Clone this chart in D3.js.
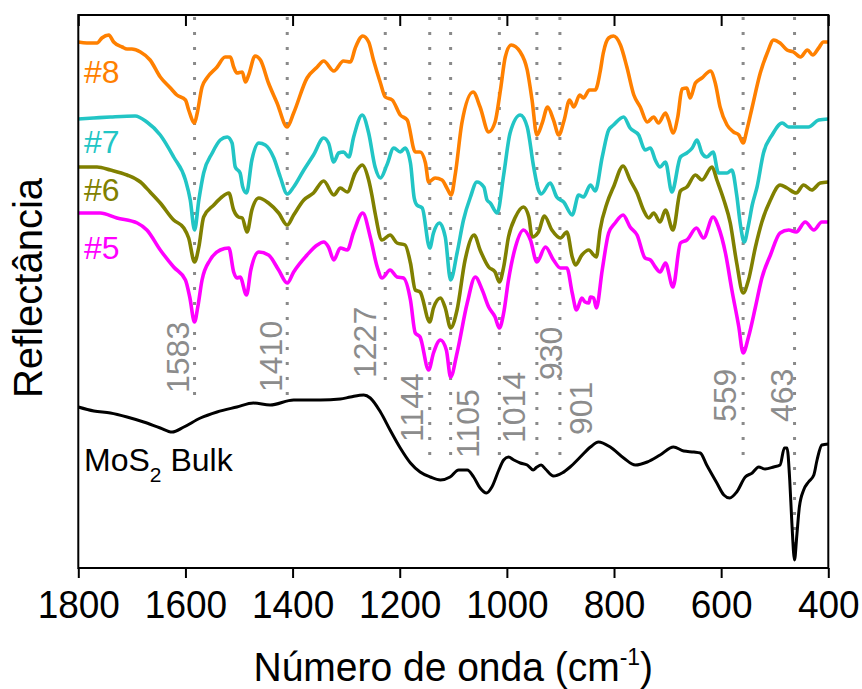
<!DOCTYPE html>
<html><head><meta charset="utf-8">
<script src="https://cdn.jsdelivr.net/npm/d3@7"></script>
<style>
body{margin:0;background:#fff}
text{font-family:"Liberation Sans", Arial, sans-serif}
</style>
</head><body>
<svg id="chart" width="862" height="689"></svg>
<script>
// ---------- data ----------
const xTicks = [1800,1600,1400,1200,1000,800,600,400];
const seriesNames = ["#8","#7","#6","#5"];
const bulkName = "MoS";
// [wavenumber (cm-1), reflectance (a.u., offset)]
const s8 = [[1800,5.26],[1784,5.25],[1765,5.25],[1756,5.30],[1743,5.33],[1734,5.26],[1718,5.21],[1709,5.19],[1700,5.19],[1684,5.16],[1666,5.08],[1647,4.91],[1628,4.80],[1616,4.73],[1600,4.68],[1594,4.58],[1583,4.45],[1578,4.55],[1569,4.81],[1560,4.90],[1541,5.01],[1526,5.11],[1516,5.11],[1510,5.01],[1504,4.95],[1494,4.96],[1488,4.86],[1482,4.93],[1470,5.12],[1460,5.08],[1445,4.85],[1429,4.65],[1410,4.41],[1398,4.55],[1373,4.90],[1354,5.01],[1342,5.07],[1323,4.97],[1305,5.07],[1292,5.06],[1283,5.20],[1269,5.32],[1258,5.26],[1249,5.08],[1236,4.85],[1227,4.71],[1214,4.68],[1199,4.53],[1186,4.48],[1171,4.16],[1162,4.16],[1152,4.05],[1146,3.86],[1134,3.90],[1121,3.88],[1112,3.80],[1104,3.73],[1096,3.95],[1084,4.45],[1063,4.76],[1050,4.61],[1034,4.36],[1022,4.46],[1012,4.78],[1003,5.11],[992,5.23],[975,5.16],[962,4.98],[953,4.68],[944,4.33],[934,4.45],[924,4.61],[913,4.48],[903,4.33],[893,4.48],[883,4.68],[875,4.61],[864,4.73],[857,4.70],[846,4.78],[835,4.78],[826,4.96],[820,5.15],[810,5.30],[801,5.32],[788,5.23],[776,5.01],[763,4.73],[751,4.61],[738,4.46],[726,4.51],[717,4.45],[704,4.55],[698,4.48],[690,4.35],[681,4.51],[673,4.79],[664,4.80],[658,4.70],[648,4.85],[636,4.90],[620,4.97],[611,4.85],[602,4.61],[589,4.43],[577,4.36],[567,4.33],[559,4.25],[552,4.38],[542,4.61],[527,4.95],[514,5.15],[502,5.28],[490,5.25],[477,5.18],[465,5.16],[452,5.11],[439,5.18],[429,5.13],[418,5.20],[409,5.26],[400,5.26]];
const s7 = [[1800,4.49],[1771,4.50],[1740,4.51],[1694,4.52],[1672,4.46],[1647,4.33],[1622,4.11],[1600,3.88],[1591,3.68],[1583,3.38],[1575,3.68],[1566,3.95],[1550,4.15],[1535,4.28],[1522,4.31],[1513,4.25],[1507,4.01],[1498,3.95],[1493,3.81],[1486,3.75],[1476,4.08],[1463,4.25],[1451,4.23],[1435,4.10],[1423,3.91],[1410,3.74],[1398,3.81],[1379,3.98],[1361,4.13],[1342,4.30],[1333,4.25],[1323,4.06],[1314,4.15],[1305,4.16],[1295,4.11],[1286,4.31],[1270,4.53],[1258,4.35],[1246,4.01],[1236,3.90],[1224,4.03],[1211,4.20],[1199,4.16],[1190,4.20],[1180,4.05],[1173,3.70],[1168,3.63],[1158,3.60],[1144,3.20],[1137,3.35],[1126,3.45],[1115,3.31],[1105,2.88],[1093,3.15],[1081,3.48],[1068,3.71],[1056,3.86],[1043,3.81],[1037,3.68],[1031,3.65],[1018,3.55],[1006,3.93],[994,4.35],[975,4.53],[962,4.41],[950,4.01],[941,3.78],[936,3.74],[919,3.85],[907,3.71],[894,3.66],[878,3.53],[866,3.73],[857,3.71],[844,3.83],[835,3.77],[822,4.11],[810,4.38],[801,4.43],[782,4.51],[770,4.40],[754,4.33],[742,4.18],[732,4.20],[723,4.08],[714,4.01],[704,4.06],[692,3.76],[676,4.11],[664,4.15],[654,4.20],[645,4.28],[636,4.15],[627,4.11],[615,4.16],[605,3.95],[589,3.95],[580,3.98],[571,3.73],[564,3.43],[557,3.26],[549,3.43],[542,3.63],[533,3.81],[521,4.15],[505,4.33],[486,4.45],[474,4.41],[452,4.41],[437,4.41],[418,4.48],[400,4.49]];
const s6 = [[1800,4.01],[1765,4.01],[1740,3.98],[1709,3.93],[1684,3.86],[1666,3.76],[1647,3.65],[1622,3.48],[1603,3.40],[1594,3.30],[1583,3.06],[1575,3.21],[1566,3.51],[1547,3.63],[1532,3.71],[1519,3.75],[1510,3.58],[1501,3.51],[1494,3.50],[1485,3.36],[1476,3.58],[1463,3.70],[1445,3.65],[1426,3.55],[1410,3.43],[1398,3.53],[1379,3.68],[1361,3.75],[1342,3.87],[1323,3.73],[1311,3.80],[1298,3.76],[1283,3.95],[1270,4.03],[1258,3.88],[1252,3.73],[1246,3.55],[1233,3.28],[1218,3.33],[1205,3.25],[1190,3.23],[1180,3.05],[1171,2.78],[1162,2.76],[1144,2.46],[1137,2.60],[1124,2.70],[1115,2.60],[1105,2.40],[1093,2.58],[1078,3.08],[1061,3.33],[1050,3.18],[1034,3.01],[1022,2.96],[1014,2.86],[1006,3.01],[997,3.31],[984,3.51],[969,3.61],[959,3.51],[953,3.31],[941,3.36],[930,3.52],[916,3.38],[900,3.30],[888,3.36],[878,3.11],[872,3.03],[860,3.13],[847,3.18],[838,3.13],[833,3.11],[826,3.38],[813,3.65],[801,3.81],[783,4.02],[770,3.88],[757,3.75],[745,3.58],[735,3.50],[726,3.55],[714,3.46],[704,3.58],[690,3.38],[676,3.77],[664,3.81],[648,3.93],[636,3.88],[617,4.01],[608,3.88],[595,3.68],[583,3.45],[571,3.05],[559,2.75],[549,2.88],[536,3.21],[524,3.46],[508,3.68],[490,3.83],[477,3.80],[460,3.75],[446,3.83],[431,3.78],[415,3.85],[400,3.86]];
const s5 = [[1800,3.55],[1759,3.55],[1728,3.50],[1690,3.45],[1672,3.38],[1647,3.18],[1622,3.01],[1600,2.88],[1592,2.71],[1583,2.46],[1577,2.61],[1569,2.88],[1554,3.08],[1535,3.18],[1519,3.20],[1510,2.96],[1504,2.90],[1498,2.91],[1486,2.73],[1478,2.98],[1463,3.16],[1445,3.13],[1426,2.98],[1410,2.85],[1398,2.96],[1373,3.13],[1354,3.23],[1342,3.26],[1333,3.21],[1323,3.08],[1311,3.20],[1298,3.18],[1286,3.36],[1269,3.55],[1255,3.31],[1242,3.01],[1233,2.90],[1218,2.98],[1205,2.91],[1193,2.90],[1180,2.68],[1171,2.35],[1162,2.31],[1146,1.98],[1137,2.15],[1124,2.28],[1113,2.18],[1105,1.91],[1093,2.15],[1074,2.65],[1059,2.91],[1046,2.78],[1034,2.61],[1022,2.51],[1014,2.40],[1006,2.55],[997,2.88],[984,3.21],[969,3.38],[956,3.28],[944,3.06],[928,3.21],[913,3.08],[900,3.00],[888,3.00],[878,2.75],[870,2.58],[860,2.70],[854,2.66],[847,2.65],[844,2.71],[838,2.70],[833,2.60],[822,2.98],[810,3.35],[798,3.45],[783,3.53],[770,3.41],[757,3.33],[742,3.10],[732,3.08],[723,3.01],[714,2.96],[704,3.05],[690,2.81],[676,3.25],[664,3.28],[646,3.40],[633,3.30],[615,3.51],[605,3.41],[592,3.15],[580,2.78],[567,2.41],[559,2.15],[549,2.31],[536,2.61],[524,2.90],[508,3.13],[490,3.35],[474,3.38],[460,3.36],[443,3.46],[427,3.38],[412,3.46],[400,3.46]];
const bulk = [[1800,1.61],[1771,1.57],[1740,1.55],[1709,1.51],[1678,1.46],[1647,1.40],[1625,1.36],[1603,1.41],[1572,1.50],[1541,1.56],[1504,1.61],[1473,1.65],[1442,1.63],[1398,1.68],[1348,1.68],[1311,1.69],[1292,1.71],[1267,1.73],[1255,1.70],[1236,1.56],[1218,1.38],[1199,1.20],[1180,1.05],[1162,0.96],[1143,0.91],[1124,0.88],[1106,0.91],[1090,0.98],[1074,0.98],[1062,0.91],[1050,0.80],[1038,0.75],[1028,0.81],[1015,0.98],[1006,1.08],[997,1.11],[987,1.08],[975,1.05],[962,1.03],[951,0.98],[944,1.01],[936,1.03],[928,0.99],[913,0.92],[897,0.95],[882,1.01],[863,1.11],[844,1.21],[829,1.26],[807,1.21],[782,1.10],[760,1.03],[738,1.06],[714,1.13],[689,1.21],[670,1.17],[651,1.16],[639,1.15],[627,1.03],[608,0.85],[595,0.73],[584,0.70],[571,0.76],[555,0.91],[542,0.95],[530,1.01],[518,0.99],[502,1.01],[490,1.03],[482,1.20],[477,1.20],[472,0.88],[468,0.45],[463,0.08],[459,0.31],[454,0.61],[446,0.78],[437,0.86],[427,0.93],[421,1.08],[412,1.23],[400,1.24]];
const peakLabels = ["1583","1410","1227","1144","1105","1014","930","901","559","463"];
const peakPos = [1583,1410,1227,1144,1105,1014,944,901,559,463];

// ---------- layout / style ----------
const colors = ["#ff8000","#22c5c5","#808000","#ff00ff"];
const peakLineEnd = [1.73,1.73,1.86,1.10,1.10,1.13,1.10,1.10,1.10,0.08];
const peakLabelBase = [1.75,1.76,1.90,1.26,1.10,1.25,1.88,1.33,1.46,1.46];
const peakLabelDx = [-6,-5,-9,-7,28,26,25,32,-7,-2];
const nameBase = [4.85,4.15,3.67,3.09];

const svg = d3.select("#chart");
const L = 78.3, R = 828.3, T = 15, B = 568;
const x = d3.scaleLinear().domain([1800,400]).range([L,R]);
const y = d3.scaleLinear().domain([0,5.53]).range([B,T]);

// dotted reference lines
svg.append("g").selectAll("line").data(peakPos).join("line")
  .attr("x1", d=>x(d)).attr("x2", d=>x(d))
  .attr("y1", T+2).attr("y2", (d,i)=>y(peakLineEnd[i]))
  .attr("stroke","#8a8a8a").attr("stroke-width",3)
  .attr("stroke-dasharray","3 12");

// curves
const line = d3.line().x(d=>x(d[0])).y(d=>y(d[1])).curve(d3.curveMonotoneX);
const allSeries = [s8,s7,s6,s5];
svg.append("g").selectAll("path").data(allSeries).join("path")
  .attr("d", line).attr("fill","none")
  .attr("stroke",(d,i)=>colors[i]).attr("stroke-width",3.6)
  .attr("stroke-linejoin","round");
svg.append("path").datum(bulk).attr("d", line).attr("fill","none")
  .attr("stroke","#000").attr("stroke-width",3).attr("stroke-linejoin","round");

// frame
svg.append("rect").attr("x",L).attr("y",T).attr("width",R-L).attr("height",B-T)
  .attr("fill","none").attr("stroke","#000").attr("stroke-width",2);

// bottom axis
const ax = svg.append("g").attr("transform",`translate(0,${B})`)
  .call(d3.axisBottom(x).tickValues(xTicks).tickSize(10).tickFormat(d3.format("d")));
ax.select(".domain").remove();
ax.selectAll(".tick line").attr("stroke","#000").attr("stroke-width",2);
ax.selectAll(".tick text").attr("y",46.7).attr("dy",0)
  .attr("transform","scale(1,1.07)")
  .style("font-size","37px").attr("fill","#000")
  .style("font-family","'Liberation Sans', Arial, sans-serif");

// top axis (inner ticks)
const axT = svg.append("g").attr("transform",`translate(0,${T})`)
  .call(d3.axisTop(x).tickValues(xTicks).tickSize(-11).tickFormat(""));
axT.select(".domain").remove();
axT.selectAll(".tick line").attr("stroke","#000").attr("stroke-width",2);

// y title
svg.append("text").attr("transform","translate(42,288) rotate(-90)")
  .attr("text-anchor","middle").style("font-size","40px").attr("fill","#000")
  .text("Reflectância");

// x title
const xt = svg.append("text").attr("transform",`translate(${(L+R)/2},681) scale(1,1.05)`)
  .attr("text-anchor","middle").style("font-size","39px").attr("fill","#000");
xt.append("tspan").text("Número de onda (cm");
xt.append("tspan").attr("dy",-15).style("font-size","23px").text("-1");
xt.append("tspan").attr("dy",15).text(")");

// series labels
svg.append("g").selectAll("text").data(seriesNames).join("text")
  .attr("x",84).attr("y",(d,i)=>y(nameBase[i]))
  .style("font-size","32px").attr("fill",(d,i)=>colors[i]).text(d=>d);

// bulk label
const bt = svg.append("text").attr("x",84).attr("y",y(0.97))
  .style("font-size","32px").attr("fill","#000");
bt.append("tspan").text(bulkName);
bt.append("tspan").attr("dy",11).style("font-size","21px").text("2");
bt.append("tspan").attr("dy",-11).text(" Bulk");

// peak labels
svg.append("g").selectAll("text").data(peakLabels).join("text")
  .attr("transform",(d,i)=>`translate(${x(peakPos[i])+peakLabelDx[i]},${y(peakLabelBase[i])}) rotate(-90)`)
  .attr("text-anchor","start").style("font-size","32px").attr("fill","#8c8c8c")
  .text(d=>d);
</script>
</body></html>
